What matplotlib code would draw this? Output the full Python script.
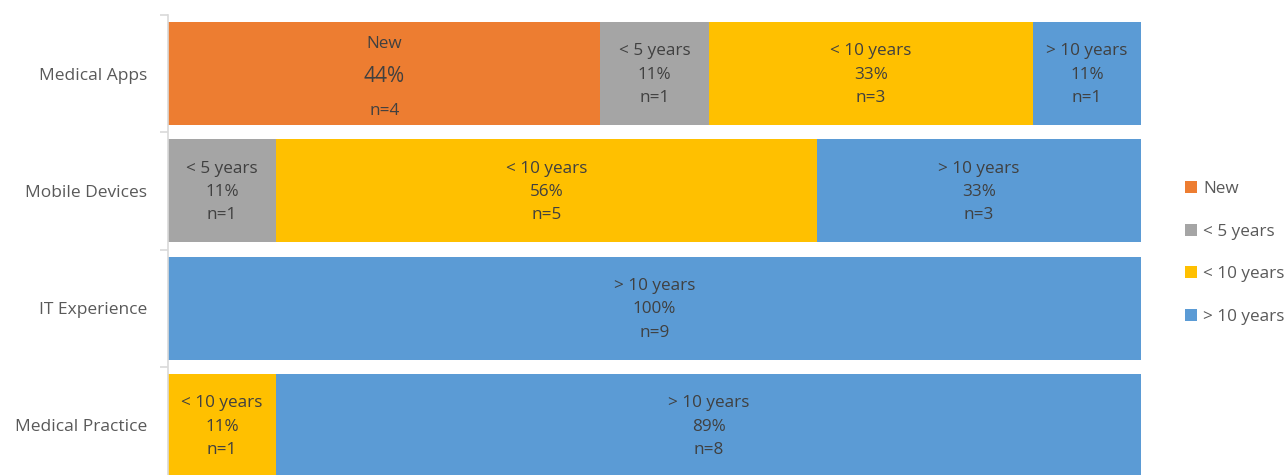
import matplotlib.pyplot as plt
from matplotlib.patches import Patch

plt.rcParams['font.family'] = ['Open Sans', 'DejaVu Sans']

categories = ['Medical Apps', 'Mobile Devices', 'IT Experience', 'Medical Practice']
groups = ['New', '< 5 years', '< 10 years', '> 10 years']
colors = ['#ED7D31', '#A5A5A5', '#FFC000', '#5B9BD5']
# counts per category (n), same order as groups
counts = {
    'New':        [4, 0, 0, 0],
    '< 5 years':  [1, 1, 0, 0],
    '< 10 years': [3, 5, 0, 1],
    '> 10 years': [1, 3, 9, 8],
}
totals = [9, 9, 9, 9]

fig = plt.figure(figsize=(12.88, 4.75), dpi=100)
ax = fig.add_axes([168 / 1288, 1 - 484 / 475, 973 / 1288, 469 / 475])

ypos = list(range(len(categories)))
left = [0.0] * len(categories)
txt_color = '#404040'
fs = 12.3
for g, c in zip(groups, colors):
    vals = [cnt / t * 100 for cnt, t in zip(counts[g], totals)]
    ax.barh(ypos, vals, left=left, height=0.88, color=c, edgecolor='none')
    for i, (v, cnt) in enumerate(zip(vals, counts[g])):
        if cnt == 0:
            continue
        xc = left[i] + v / 2
        pct = f'{round(v)}%'
        if g == 'New':
            # this one is laid out differently in the original
            ax.text(xc, i - 0.255, g, ha='center', va='center', fontsize=fs, color=txt_color)
            ax.text(xc, i + 0.025, pct, ha='center', va='center', fontsize=15, color=txt_color)
            ax.text(xc, i + 0.32, f'n={cnt}', ha='center', va='center', fontsize=fs, color=txt_color)
        else:
            ax.text(xc, i + 0.01, f'{g}\n{pct}\nn={cnt}', ha='center', va='center',
                    fontsize=fs, color=txt_color, linespacing=1.62)
    left = [l + v for l, v in zip(left, vals)]

ax.set_xlim(0, 100)
ax.set_ylim(len(categories) - 0.5, -0.5)
ax.set_yticks(ypos)
ax.set_yticklabels(categories, fontsize=12.5, color='#595959')
ax.tick_params(axis='y', length=0, pad=15)
ax.set_yticks([-0.5, 0.5, 1.5, 2.5, 3.5], minor=True)
ax.tick_params(axis='y', which='minor', length=6, color='#D9D9D9', width=1.2)
ax.set_xticks([])
for s in ['top', 'right', 'bottom']:
    ax.spines[s].set_visible(False)
ax.spines['left'].set_color('#D9D9D9')
ax.spines['left'].set_linewidth(1.2)

handles = [Patch(facecolor=c, edgecolor='none') for c in colors]
fig.legend(handles, groups, loc='center left', bbox_to_anchor=(1170 / 1288, 1 - 253 / 475),
           frameon=False, fontsize=12.3, labelcolor='#595959', handlelength=0.7,
           handleheight=0.7, handletextpad=0.35, labelspacing=1.55)

fig.savefig('out.png', dpi=100)
